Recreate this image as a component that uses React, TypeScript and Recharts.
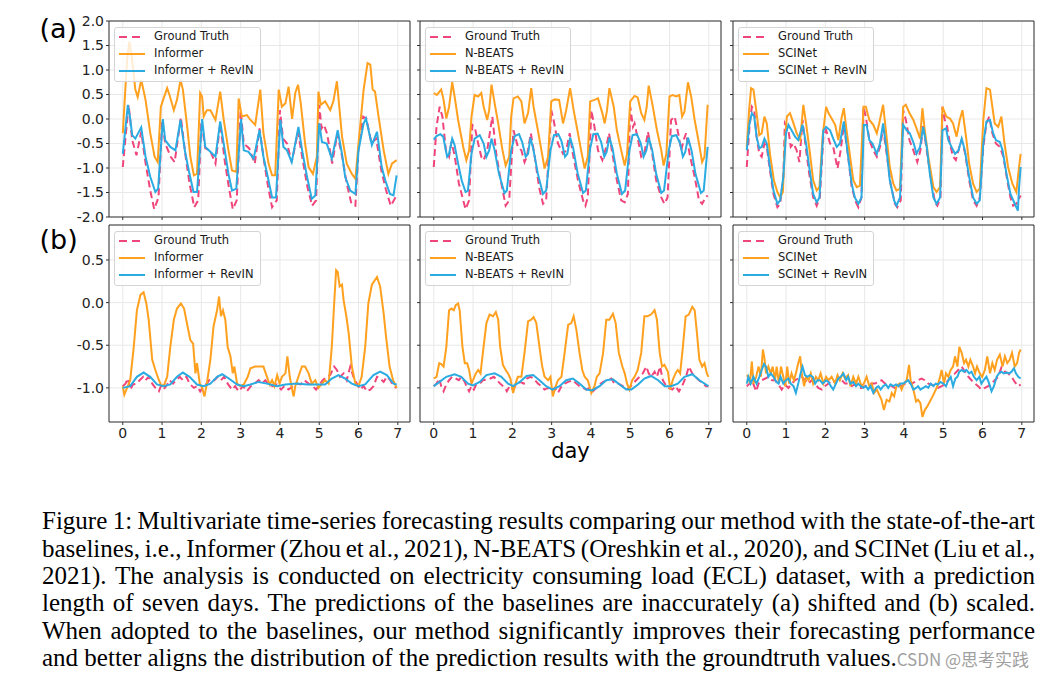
import React from 'react';
import { LineChart, Line, XAxis, YAxis, CartesianGrid, ReferenceLine, Legend } from 'recharts';

type P = [number, number];

const dayTicks = [0, 1, 2, 3, 4, 5, 6, 7];
const xDomain: [number, number] = [-0.35, 7.31];
const ticksA = [-2, -1.5, -1, -0.5, 0, 0.5, 1, 1.5, 2];
const domainA: [number, number] = [-2, 2];
const ticksB = [-1, -0.5, 0, 0.5];
const domainB: [number, number] = [-1.4, 0.91];

const namesInformer = ['Ground Truth', 'Informer', 'Informer + RevIN'];
const namesNBeats = ['Ground Truth', 'N-BEATS', 'N-BEATS + RevIN'];
const namesSCINet = ['Ground Truth', 'SCINet', 'SCINet + RevIN'];

// ---------- (a) shifted ----------
const aInformerTruth: P[] = [[0,-0.98],[0.15,0.29],[0.24,-0.43],[0.35,-0.74],[0.47,-0.26],[0.58,-0.9],[0.7,-1.46],[0.8,-1.84],[0.91,-1.6],[1,-0.05],[1.08,-0.5],[1.22,-0.77],[1.32,-0.88],[1.48,0.03],[1.6,-0.77],[1.7,-1.32],[1.82,-1.8],[1.92,-1.66],[2,-0.05],[2.1,-0.6],[2.22,-0.64],[2.36,-0.91],[2.48,-0.09],[2.6,-0.88],[2.7,-1.39],[2.8,-1.84],[2.9,-1.66],[3,0.18],[3.08,-0.5],[3.22,-0.6],[3.36,-0.91],[3.48,-0.19],[3.6,-0.88],[3.7,-1.39],[3.8,-1.8],[3.92,-1.66],[4,0.18],[4.08,-0.4],[4.18,-0.5],[4.3,-0.88],[4.46,-0.26],[4.58,-0.84],[4.7,-1.39],[4.82,-1.77],[4.92,-1.66],[5,0.29],[5.06,-0.19],[5.12,-0.12],[5.2,-0.3],[5.33,-0.91],[5.46,-0.3],[5.6,-0.84],[5.7,-1.32],[5.82,-1.73],[5.92,-1.77],[6,-0.6],[6.12,0.05],[6.2,0.01],[6.33,-0.5],[6.45,-0.4],[6.58,-1.05],[6.7,-1.45],[6.82,-1.77],[6.97,-1.56]];
const aInformerBase: P[] = [[0,-0.29],[0.11,1.21],[0.17,1.58],[0.24,1.2],[0.32,0.6],[0.38,0.45],[0.47,0.8],[0.58,0.39],[0.7,-0.29],[0.81,-0.77],[0.89,-0.88],[0.97,0.25],[1.04,0.42],[1.13,0.63],[1.19,0.49],[1.3,0.18],[1.38,0.39],[1.47,0.8],[1.53,0.6],[1.64,-0.16],[1.72,-0.77],[1.81,-1.15],[1.89,-1.12],[1.97,0.53],[2.02,0.46],[2.06,0.05],[2.14,0.18],[2.23,0.18],[2.36,-0.02],[2.48,0.56],[2.57,-0.02],[2.69,-0.64],[2.78,-1.05],[2.89,-1.08],[2.95,0.42],[3.03,0.05],[3.16,0.08],[3.25,-0.02],[3.37,-0.12],[3.5,0.6],[3.58,-0.29],[3.71,-0.91],[3.8,-1.15],[3.88,-1.15],[3.97,0.6],[4.05,0.25],[4.14,0.32],[4.22,0.66],[4.31,0],[4.39,0.53],[4.46,0.7],[4.53,0.32],[4.64,-0.5],[4.73,-0.98],[4.84,-1.12],[4.94,-0.77],[4.98,0.56],[5.04,0.29],[5.15,0.36],[5.28,0.18],[5.36,0.36],[5.45,0.77],[5.58,-0.36],[5.7,-0.91],[5.83,-1.12],[5.92,-1.22],[6,-0.5],[6.13,0.6],[6.23,1.14],[6.3,1.11],[6.36,0.6],[6.42,0.56],[6.51,0.05],[6.64,-0.64],[6.76,-1.12],[6.85,-0.91],[6.97,-0.84]];
const aInformerRevin: P[] = [[0,-0.71],[0.13,0.29],[0.19,0],[0.24,-0.33],[0.32,-0.4],[0.47,-0.17],[0.58,-0.77],[0.7,-1.18],[0.83,-1.49],[0.9,-1.42],[1.02,0],[1.08,-0.43],[1.21,-0.57],[1.34,-0.64],[1.47,-0.02],[1.58,-0.64],[1.68,-1.05],[1.8,-1.49],[1.89,-1.49],[2.02,0],[2.1,-0.57],[2.23,-0.67],[2.36,-0.77],[2.48,-0.05],[2.61,-0.71],[2.69,-1.12],[2.78,-1.46],[2.89,-1.42],[3.01,0],[3.08,-0.64],[3.2,-0.67],[3.33,-0.81],[3.48,-0.23],[3.58,-0.77],[3.69,-1.18],[3.8,-1.6],[3.9,-1.6],[4.01,-0.02],[4.09,-0.57],[4.18,-0.64],[4.3,-0.88],[4.47,-0.16],[4.58,-0.71],[4.69,-1.18],[4.81,-1.63],[4.9,-1.56],[5,-0.09],[5.07,-0.47],[5.19,-0.5],[5.32,-0.81],[5.47,-0.23],[5.58,-0.71],[5.66,-1.18],[5.79,-1.46],[5.92,-1.53],[6,-0.64],[6.13,-0.09],[6.19,0.01],[6.34,-0.53],[6.47,-0.26],[6.59,-0.98],[6.68,-1.25],[6.8,-1.53],[6.89,-1.56],[6.97,-1.15]];

const aNBeatsTruth: P[] = [[0,-0.98],[0.07,-0.16],[0.15,0.25],[0.22,0.05],[0.31,-0.64],[0.39,-0.77],[0.45,-0.47],[0.53,-0.74],[0.64,-1.32],[0.75,-1.66],[0.81,-1.84],[0.9,-1.66],[0.98,-0.12],[1.05,-0.19],[1.13,-0.5],[1.21,-0.77],[1.27,-0.84],[1.36,-0.64],[1.49,0.05],[1.59,-0.71],[1.72,-1.32],[1.83,-1.77],[1.92,-1.66],[1.98,-0.84],[2.03,-0.23],[2.14,-0.57],[2.23,-0.64],[2.31,-0.88],[2.37,-0.77],[2.47,-0.29],[2.57,-0.77],[2.68,-1.39],[2.78,-1.73],[2.86,-1.66],[2.99,0.18],[3.05,-0.02],[3.16,-0.5],[3.29,-0.71],[3.37,-0.64],[3.46,-0.29],[3.54,-0.71],[3.67,-1.25],[3.8,-1.66],[3.86,-1.77],[3.92,-1.6],[4.01,0.18],[4.09,-0.16],[4.18,-0.64],[4.29,-0.84],[4.39,-0.57],[4.46,-0.29],[4.56,-0.77],[4.66,-1.25],[4.77,-1.66],[4.86,-1.7],[4.94,-1.53],[5,0.25],[5.07,-0.16],[5.11,-0.09],[5.2,-0.43],[5.28,-0.77],[5.36,-0.71],[5.45,-0.26],[5.56,-0.71],[5.66,-1.25],[5.79,-1.6],[5.87,-1.73],[5.95,-1.6],[6.04,-0.02],[6.13,0.05],[6.22,-0.29],[6.3,-0.64],[6.36,-0.43],[6.42,-0.29],[6.51,-0.71],[6.64,-1.18],[6.75,-1.66],[6.83,-1.73],[6.92,-1.6],[6.97,-1.56]];
const aNBeatsBase: P[] = [[0,0.53],[0.08,0.49],[0.19,0.6],[0.25,0.39],[0.32,0.01],[0.39,0.25],[0.47,0.75],[0.53,0.46],[0.62,-0.02],[0.75,-0.57],[0.83,-0.84],[0.9,-0.64],[0.96,0.05],[1.04,0.49],[1.13,0.46],[1.21,0.53],[1.27,0.25],[1.36,-0.02],[1.41,0.18],[1.47,0.7],[1.55,0.32],[1.64,-0.09],[1.75,-0.64],[1.83,-0.95],[1.92,-0.77],[1.97,0.05],[2.03,0.42],[2.14,0.46],[2.23,0.36],[2.31,-0.09],[2.4,0.12],[2.48,0.63],[2.54,0.25],[2.65,-0.23],[2.74,-0.64],[2.82,-1.01],[2.91,-0.77],[2.99,0.36],[3.08,0.4],[3.19,0.39],[3.29,-0.09],[3.37,0.18],[3.47,0.63],[3.56,0.18],[3.67,-0.29],[3.75,-0.64],[3.84,-1.01],[3.92,-0.77],[3.98,0.36],[4.09,0.39],[4.18,0.42],[4.29,0.12],[4.35,-0.09],[4.41,0.18],[4.47,0.63],[4.58,0.25],[4.66,-0.23],[4.77,-0.64],[4.86,-0.95],[4.92,-0.71],[5,0.36],[5.11,0.47],[5.19,0.44],[5.28,0.12],[5.36,-0.02],[5.42,0.25],[5.47,0.68],[5.56,0.32],[5.68,-0.23],[5.79,-0.64],[5.85,-0.95],[5.92,-0.71],[6,0.46],[6.08,0.49],[6.17,0.46],[6.25,0.49],[6.32,0.05],[6.38,0.15],[6.47,0.75],[6.55,0.46],[6.64,-0.02],[6.75,-0.5],[6.83,-0.88],[6.89,-0.77],[6.97,0.29]];
const aNBeatsRevin: P[] = [[0,-0.42],[0.07,-0.35],[0.17,-0.31],[0.24,-0.36],[0.34,-0.77],[0.39,-0.71],[0.47,-0.4],[0.53,-0.53],[0.62,-0.91],[0.71,-1.25],[0.81,-1.49],[0.87,-1.46],[0.96,-0.71],[1.04,-0.4],[1.17,-0.33],[1.27,-0.5],[1.34,-0.77],[1.41,-0.64],[1.47,-0.4],[1.55,-0.64],[1.66,-1.12],[1.8,-1.51],[1.86,-1.46],[1.97,-0.64],[2.06,-0.35],[2.17,-0.31],[2.25,-0.47],[2.34,-0.77],[2.4,-0.71],[2.46,-0.38],[2.54,-0.64],[2.65,-1.12],[2.78,-1.53],[2.86,-1.46],[2.97,-0.64],[3.06,-0.33],[3.17,-0.31],[3.25,-0.45],[3.34,-0.77],[3.4,-0.71],[3.47,-0.38],[3.55,-0.6],[3.66,-1.1],[3.8,-1.51],[3.87,-1.46],[3.98,-0.6],[4.06,-0.31],[4.17,-0.3],[4.26,-0.47],[4.34,-0.77],[4.4,-0.67],[4.47,-0.38],[4.55,-0.6],[4.66,-1.12],[4.79,-1.53],[4.87,-1.46],[4.98,-0.64],[5.06,-0.33],[5.17,-0.31],[5.27,-0.5],[5.34,-0.77],[5.41,-0.64],[5.47,-0.38],[5.56,-0.64],[5.66,-1.12],[5.79,-1.51],[5.86,-1.46],[5.98,-0.64],[6.06,-0.35],[6.17,-0.33],[6.27,-0.5],[6.34,-0.77],[6.4,-0.67],[6.47,-0.38],[6.56,-0.64],[6.66,-1.12],[6.8,-1.51],[6.87,-1.46],[6.97,-0.57]];

const aSCINetTruth: P[] = [[0,-0.98],[0.07,-0.16],[0.13,0.25],[0.19,0.18],[0.25,-0.36],[0.32,-0.71],[0.38,-0.77],[0.45,-0.5],[0.51,-0.57],[0.59,-1.05],[0.68,-1.53],[0.78,-1.8],[0.85,-1.73],[0.93,-1.18],[0.97,-0.09],[1.06,-0.23],[1.12,-0.57],[1.19,-0.5],[1.27,-0.64],[1.34,-0.88],[1.42,-0.02],[1.51,-0.64],[1.59,-1.12],[1.69,-1.6],[1.78,-1.77],[1.86,-1.6],[1.95,-0.36],[2.02,-0.23],[2.12,-0.5],[2.2,-0.57],[2.31,-1.01],[2.39,-0.64],[2.47,-0.12],[2.58,-0.77],[2.67,-1.39],[2.78,-1.7],[2.84,-1.8],[2.92,-1.6],[2.97,0.25],[3.03,0.05],[3.12,-0.43],[3.22,-0.64],[3.31,-0.77],[3.39,-0.57],[3.47,-0.19],[3.56,-0.71],[3.66,-1.32],[3.77,-1.73],[3.83,-1.8],[3.92,-1.66],[3.98,0.18],[4.05,-0.02],[4.14,-0.43],[4.24,-0.64],[4.34,-0.88],[4.42,-0.64],[4.49,-0.12],[4.58,-0.64],[4.68,-1.18],[4.79,-1.7],[4.85,-1.77],[4.93,-1.6],[4.98,0.25],[5.04,-0.02],[5.1,-0.16],[5.17,-0.5],[5.25,-0.77],[5.32,-0.84],[5.41,-0.57],[5.47,-0.43],[5.56,-0.71],[5.66,-1.25],[5.76,-1.66],[5.85,-1.77],[5.93,-1.6],[6.02,-0.57],[6.1,-0.09],[6.17,0.05],[6.25,-0.29],[6.34,-0.5],[6.44,-0.57],[6.53,-0.77],[6.63,-1.25],[6.71,-1.6],[6.78,-1.77],[6.86,-1.73],[6.97,-1.56]];
const aSCINetBase: P[] = [[0,-0.57],[0.06,0.18],[0.11,0.63],[0.17,0.6],[0.24,0.18],[0.32,-0.33],[0.38,-0.29],[0.45,0.05],[0.51,-0.09],[0.59,-0.71],[0.69,-1.25],[0.78,-1.49],[0.85,-1.6],[0.92,-1.49],[0.97,-0.5],[1.02,0.05],[1.1,0.12],[1.19,-0.09],[1.27,-0.29],[1.36,-0.43],[1.44,0.29],[1.51,-0.09],[1.61,-0.71],[1.69,-1.25],[1.78,-1.46],[1.85,-1.39],[1.93,-0.36],[2.02,0.25],[2.08,0.12],[2.16,0.01],[2.25,-0.12],[2.33,-0.43],[2.41,0.01],[2.47,0.22],[2.54,-0.23],[2.63,-0.77],[2.71,-1.25],[2.8,-1.39],[2.88,-1.36],[2.97,0.25],[3.03,0.25],[3.12,-0.02],[3.22,-0.12],[3.31,-0.29],[3.37,-0.09],[3.47,0.29],[3.54,-0.23],[3.64,-0.98],[3.73,-1.32],[3.81,-1.46],[3.9,-1.42],[3.98,0.25],[4.05,0.29],[4.14,0.12],[4.24,-0.02],[4.32,-0.19],[4.41,-0.4],[4.47,0.22],[4.53,-0.23],[4.62,-0.77],[4.75,-1.39],[4.83,-1.49],[4.92,-1.39],[4.98,0.25],[5.08,0.05],[5.17,0.01],[5.25,-0.09],[5.34,-0.36],[5.42,-0.02],[5.49,0.18],[5.58,-0.36],[5.66,-0.91],[5.76,-1.32],[5.85,-1.49],[5.93,-1.42],[6.02,-0.02],[6.1,0.63],[6.19,0.6],[6.25,0.25],[6.31,-0.09],[6.4,-0.16],[6.48,0.05],[6.56,-0.5],[6.65,-0.98],[6.76,-1.32],[6.86,-1.49],[6.92,-1.05],[6.97,-0.71]];
const aSCINetRevin: P[] = [[0,-0.64],[0.07,-0.09],[0.13,0.12],[0.19,0.05],[0.25,-0.36],[0.32,-0.6],[0.38,-0.57],[0.45,-0.4],[0.51,-0.5],[0.59,-0.98],[0.68,-1.46],[0.78,-1.73],[0.85,-1.66],[0.93,-1.18],[1,-0.29],[1.06,-0.12],[1.14,-0.23],[1.23,-0.36],[1.31,-0.43],[1.42,-0.12],[1.51,-0.5],[1.59,-0.98],[1.69,-1.53],[1.78,-1.7],[1.85,-1.6],[1.95,-0.23],[2.02,-0.16],[2.12,-0.23],[2.2,-0.4],[2.29,-0.57],[2.37,-0.5],[2.47,-0.05],[2.56,-0.64],[2.67,-1.32],[2.75,-1.6],[2.84,-1.73],[2.92,-1.6],[2.98,-0.12],[3.05,-0.12],[3.12,-0.43],[3.2,-0.5],[3.31,-0.71],[3.39,-0.5],[3.47,-0.09],[3.56,-0.64],[3.64,-1.25],[3.75,-1.66],[3.81,-1.77],[3.9,-1.6],[3.98,-0.12],[4.07,-0.23],[4.15,-0.29],[4.25,-0.5],[4.32,-0.71],[4.41,-0.57],[4.49,-0.16],[4.58,-0.57],[4.66,-1.12],[4.75,-1.6],[4.83,-1.73],[4.92,-1.6],[4.98,-0.23],[5.07,-0.19],[5.13,-0.43],[5.21,-0.57],[5.3,-0.71],[5.39,-0.64],[5.47,-0.4],[5.55,-0.64],[5.66,-1.18],[5.76,-1.6],[5.85,-1.73],[5.93,-1.66],[6.02,-0.5],[6.1,-0.05],[6.19,-0.02],[6.27,-0.29],[6.34,-0.43],[6.44,-0.47],[6.51,-0.64],[6.61,-1.12],[6.71,-1.53],[6.82,-1.73],[6.9,-1.87],[6.93,-1.39],[6.97,-0.98]];

// ---------- (b) scaled ----------
const bInformerTruth: P[] = [[0,-0.98],[0.07,-0.95],[0.13,-0.89],[0.19,-1.02],[0.26,-0.96],[0.35,-0.95],[0.43,-0.91],[0.52,-0.87],[0.58,-0.91],[0.66,-0.87],[0.75,-0.95],[0.83,-1],[0.92,-1.04],[0.97,-0.98],[1.04,-1.02],[1.13,-0.96],[1.19,-0.91],[1.28,-0.95],[1.36,-0.91],[1.45,-0.87],[1.53,-0.91],[1.62,-0.87],[1.7,-0.95],[1.81,-1],[1.89,-0.98],[1.97,-1.04],[2.06,-0.98],[2.14,-0.95],[2.23,-0.89],[2.33,-0.91],[2.42,-0.87],[2.5,-0.91],[2.58,-0.87],[2.67,-0.95],[2.78,-1.02],[2.86,-0.98],[2.95,-1.04],[3.06,-0.98],[3.16,-1.04],[3.26,-0.98],[3.35,-0.95],[3.46,-0.91],[3.54,-0.95],[3.63,-0.91],[3.71,-0.96],[3.82,-0.98],[3.92,-0.96],[4.03,-1.02],[4.11,-0.98],[4.22,-1.02],[4.33,-0.98],[4.43,-0.95],[4.53,-0.96],[4.62,-0.91],[4.73,-0.95],[4.84,-0.98],[4.92,-1.02],[5.01,-0.96],[5.09,-0.91],[5.18,-0.87],[5.28,-0.85],[5.38,-0.75],[5.45,-0.79],[5.53,-0.87],[5.62,-0.83],[5.7,-0.91],[5.79,-0.75],[5.87,-0.87],[5.96,-0.95],[6.04,-1.02],[6.13,-0.98],[6.21,-1.04],[6.3,-1.02],[6.38,-0.98],[6.47,-0.87],[6.55,-0.89],[6.64,-0.93],[6.72,-0.87],[6.81,-0.91],[6.89,-0.98],[6.97,-1]];
const bInformerBase: P[] = [[0,-0.98],[0.04,-1.08],[0.11,-1],[0.19,-0.91],[0.28,-0.52],[0.36,-0.09],[0.45,0.09],[0.53,0.12],[0.6,-0.01],[0.66,-0.2],[0.75,-0.67],[0.83,-0.79],[0.92,-0.91],[0.97,-0.96],[1.04,-0.98],[1.13,-0.87],[1.21,-0.52],[1.3,-0.2],[1.38,-0.07],[1.48,-0.01],[1.56,-0.07],[1.65,-0.28],[1.72,-0.44],[1.79,-0.48],[1.85,-0.83],[1.89,-0.71],[1.96,-0.95],[2.02,-1],[2.08,-1.1],[2.14,-0.95],[2.23,-0.67],[2.31,-0.28],[2.4,-0.09],[2.45,0.07],[2.5,-0.16],[2.55,-0.09],[2.61,-0.2],[2.67,-0.52],[2.74,-0.63],[2.8,-0.83],[2.84,-0.75],[2.91,-0.95],[2.99,-0.98],[3.08,-0.96],[3.18,-0.87],[3.25,-0.77],[3.37,-0.75],[3.5,-0.75],[3.58,-0.75],[3.67,-0.87],[3.74,-0.96],[3.8,-0.91],[3.86,-0.98],[3.93,-0.85],[3.99,-0.95],[4.05,-0.87],[4.14,-0.83],[4.19,-0.63],[4.25,-0.87],[4.31,-1.02],[4.35,-1.1],[4.39,-0.98],[4.47,-0.87],[4.56,-0.75],[4.64,-0.75],[4.73,-0.83],[4.81,-0.95],[4.9,-0.91],[4.98,-1],[5.07,-0.95],[5.15,-0.91],[5.24,-0.95],[5.32,-0.52],[5.38,-0.01],[5.43,0.38],[5.47,0.36],[5.52,0.19],[5.58,0.21],[5.62,0.03],[5.69,-0.16],[5.75,-0.36],[5.83,-0.75],[5.92,-0.95],[6,-0.98],[6.08,-0.87],[6.17,-0.52],[6.25,-0.01],[6.34,0.21],[6.47,0.3],[6.55,0.19],[6.64,-0.13],[6.7,-0.4],[6.79,-0.75],[6.88,-0.91],[6.97,-1]];
const bInformerRevin: P[] = [[0,-1],[0.19,-0.98],[0.36,-0.87],[0.53,-0.82],[0.7,-0.87],[0.87,-0.96],[1.04,-0.98],[1.21,-0.96],[1.38,-0.87],[1.53,-0.82],[1.7,-0.87],[1.89,-0.96],[2.06,-0.98],[2.23,-0.95],[2.4,-0.87],[2.53,-0.84],[2.7,-0.89],[2.91,-0.96],[3.08,-0.98],[3.25,-0.96],[3.46,-0.93],[3.67,-0.95],[3.92,-0.98],[4.14,-0.96],[4.43,-0.95],[4.69,-0.96],[4.98,-0.96],[5.15,-0.96],[5.32,-0.89],[5.49,-0.85],[5.66,-0.89],[5.83,-0.95],[6,-0.98],[6.17,-0.96],[6.38,-0.85],[6.55,-0.81],[6.72,-0.85],[6.89,-0.95],[6.97,-0.96]];

const bNBeatsTruth: P[] = [[0,-0.98],[0.07,-0.95],[0.14,-0.89],[0.19,-0.98],[0.25,-1.04],[0.32,-0.96],[0.39,-0.91],[0.47,-0.87],[0.56,-0.89],[0.64,-0.91],[0.7,-0.87],[0.79,-0.93],[0.85,-1],[0.9,-1.04],[0.96,-0.98],[1.02,-1.02],[1.08,-0.96],[1.17,-0.95],[1.25,-0.91],[1.36,-0.9],[1.44,-0.89],[1.53,-0.87],[1.61,-0.91],[1.69,-0.95],[1.81,-1],[1.86,-1.04],[1.93,-0.98],[2.02,-1.02],[2.1,-0.96],[2.2,-0.93],[2.29,-0.95],[2.37,-0.89],[2.46,-0.87],[2.54,-0.89],[2.65,-0.95],[2.74,-0.98],[2.82,-1.02],[2.91,-1],[2.99,-1.04],[3.08,-1],[3.16,-1.06],[3.25,-0.98],[3.33,-0.95],[3.42,-0.93],[3.54,-0.91],[3.63,-0.95],[3.71,-0.98],[3.8,-1],[3.88,-1.02],[3.97,-1],[4.05,-1.04],[4.14,-1],[4.22,-0.96],[4.31,-0.93],[4.43,-0.91],[4.52,-0.89],[4.6,-0.95],[4.69,-0.95],[4.81,-0.98],[4.9,-1.02],[4.98,-1],[5.07,-0.95],[5.15,-0.91],[5.24,-0.87],[5.32,-0.83],[5.41,-0.75],[5.47,-0.83],[5.53,-0.87],[5.62,-0.81],[5.68,-0.87],[5.76,-0.75],[5.83,-0.91],[5.92,-0.98],[5.98,-1],[6.07,-1.02],[6.15,-0.98],[6.24,-1.04],[6.32,-0.98],[6.42,-0.87],[6.49,-0.75],[6.58,-0.83],[6.66,-0.87],[6.75,-0.91],[6.85,-0.95],[6.93,-0.98],[6.99,-0.98]];
const bNBeatsBase: P[] = [[0,-0.89],[0.07,-0.87],[0.14,-0.71],[0.19,-0.72],[0.25,-0.75],[0.32,-0.52],[0.39,-0.09],[0.45,-0.07],[0.51,-0.09],[0.56,-0.03],[0.62,-0.01],[0.66,-0.09],[0.73,-0.52],[0.79,-0.71],[0.85,-0.71],[0.9,-0.79],[0.96,-0.95],[1,-0.91],[1.07,-0.83],[1.13,-0.79],[1.19,-0.83],[1.25,-0.59],[1.34,-0.24],[1.42,-0.14],[1.51,-0.16],[1.58,-0.11],[1.64,-0.2],[1.69,-0.52],[1.76,-0.73],[1.83,-0.79],[1.89,-0.83],[1.95,-0.89],[2.02,-1.06],[2.08,-0.95],[2.14,-0.87],[2.23,-0.87],[2.31,-0.59],[2.4,-0.22],[2.48,-0.2],[2.54,-0.17],[2.61,-0.24],[2.69,-0.52],[2.76,-0.75],[2.82,-0.87],[2.91,-0.91],[2.97,-0.87],[3.03,-1.1],[3.09,-1],[3.16,-0.91],[3.25,-0.87],[3.33,-0.59],[3.42,-0.26],[3.5,-0.24],[3.56,-0.16],[3.63,-0.32],[3.71,-0.59],[3.78,-0.79],[3.84,-0.87],[3.92,-0.91],[4.01,-1.06],[4.09,-0.98],[4.15,-0.87],[4.22,-0.83],[4.31,-0.59],[4.39,-0.2],[4.47,-0.2],[4.56,-0.13],[4.63,-0.24],[4.71,-0.59],[4.8,-0.75],[4.86,-0.83],[4.92,-0.95],[4.98,-1.02],[5.05,-0.91],[5.11,-0.87],[5.19,-0.79],[5.28,-0.59],[5.36,-0.16],[5.44,-0.16],[5.53,-0.14],[5.62,-0.09],[5.68,-0.2],[5.75,-0.59],[5.81,-0.75],[5.87,-0.73],[5.96,-0.81],[6.02,-1.02],[6.08,-0.91],[6.15,-0.83],[6.21,-0.79],[6.27,-0.83],[6.34,-0.52],[6.41,-0.16],[6.49,-0.14],[6.58,-0.05],[6.64,-0.09],[6.69,-0.32],[6.76,-0.67],[6.83,-0.75],[6.89,-0.71],[6.95,-0.83],[6.99,-0.87]];
const bNBeatsRevin: P[] = [[0,-0.98],[0.15,-0.93],[0.32,-0.87],[0.53,-0.84],[0.7,-0.87],[0.87,-0.95],[1,-0.97],[1.17,-0.93],[1.34,-0.85],[1.55,-0.83],[1.72,-0.87],[1.89,-0.95],[2.02,-0.98],[2.19,-0.93],[2.36,-0.86],[2.53,-0.85],[2.69,-0.91],[2.86,-0.98],[3.02,-1.02],[3.2,-0.98],[3.37,-0.91],[3.54,-0.89],[3.71,-0.95],[3.88,-1.02],[4.03,-1.03],[4.22,-0.98],[4.39,-0.91],[4.56,-0.9],[4.73,-0.96],[4.9,-1.02],[5.03,-1.02],[5.2,-0.96],[5.36,-0.89],[5.53,-0.86],[5.71,-0.91],[5.88,-0.98],[6.04,-0.98],[6.21,-0.95],[6.38,-0.87],[6.58,-0.84],[6.76,-0.91],[6.99,-0.98]];

const bSCINetTruth: P[] = [[0,-0.98],[0.07,-0.95],[0.13,-0.91],[0.19,-0.98],[0.24,-1.04],[0.3,-0.95],[0.38,-0.91],[0.47,-0.89],[0.55,-0.87],[0.64,-0.91],[0.72,-0.91],[0.81,-0.96],[0.89,-1.02],[0.97,-0.96],[1.06,-1],[1.14,-0.95],[1.23,-0.91],[1.31,-0.89],[1.4,-0.87],[1.48,-0.91],[1.57,-0.95],[1.65,-0.91],[1.74,-0.95],[1.82,-1],[1.91,-1.02],[1.99,-0.98],[2.08,-0.95],[2.16,-0.91],[2.25,-0.93],[2.33,-0.89],[2.42,-0.91],[2.5,-0.95],[2.58,-0.95],[2.67,-0.98],[2.75,-0.96],[2.84,-1],[2.92,-1],[3.01,-0.98],[3.09,-0.96],[3.18,-0.95],[3.26,-0.95],[3.35,-0.93],[3.43,-0.91],[3.52,-0.95],[3.6,-0.95],[3.69,-0.98],[3.77,-1],[3.86,-1],[3.94,-0.98],[4.03,-0.95],[4.11,-0.93],[4.19,-0.95],[4.28,-0.93],[4.36,-0.91],[4.45,-0.89],[4.53,-0.91],[4.62,-0.95],[4.7,-0.96],[4.79,-0.98],[4.87,-1],[4.96,-0.98],[5.04,-0.96],[5.13,-0.91],[5.21,-0.87],[5.3,-0.83],[5.38,-0.79],[5.47,-0.75],[5.55,-0.81],[5.64,-0.87],[5.72,-0.91],[5.81,-0.95],[5.89,-0.98],[5.97,-1.02],[6.06,-1],[6.14,-0.98],[6.23,-0.95],[6.31,-0.91],[6.4,-0.87],[6.48,-0.76],[6.57,-0.81],[6.65,-0.83],[6.74,-0.87],[6.82,-0.93],[6.91,-0.98],[6.97,-0.96]];
const bSCINetBase: P[] = [[0,-0.85],[0.04,-0.87],[0.08,-0.95],[0.13,-0.69],[0.17,-0.95],[0.24,-0.87],[0.3,-0.75],[0.36,-0.87],[0.41,-0.55],[0.45,-0.65],[0.49,-0.83],[0.55,-0.75],[0.61,-0.83],[0.66,-0.75],[0.72,-0.91],[0.76,-0.75],[0.82,-0.95],[0.87,-0.75],[0.93,-0.87],[0.98,-0.98],[1.03,-0.75],[1.08,-0.95],[1.14,-0.83],[1.2,-0.91],[1.25,-0.83],[1.31,-0.71],[1.36,-0.63],[1.4,-0.83],[1.46,-0.98],[1.51,-0.87],[1.57,-0.91],[1.63,-0.83],[1.69,-0.95],[1.76,-0.87],[1.82,-0.91],[1.88,-0.83],[1.95,-0.95],[2.02,-0.87],[2.08,-0.91],[2.16,-0.87],[2.25,-0.95],[2.31,-0.85],[2.37,-0.91],[2.44,-0.83],[2.5,-0.89],[2.58,-0.85],[2.64,-0.98],[2.71,-0.87],[2.78,-0.95],[2.84,-0.87],[2.92,-0.98],[2.98,-0.95],[3.05,-0.87],[3.12,-0.98],[3.18,-0.95],[3.24,-1.06],[3.31,-1.02],[3.37,-1.08],[3.43,-1.14],[3.49,-1.26],[3.56,-1.14],[3.63,-1.16],[3.69,-1.06],[3.75,-1.1],[3.81,-0.98],[3.88,-0.95],[3.94,-1.02],[4,-0.95],[4.07,-0.91],[4.13,-0.73],[4.17,-0.91],[4.24,-1.02],[4.31,-1.16],[4.36,-1.14],[4.42,-1.18],[4.47,-1.34],[4.53,-1.26],[4.59,-1.22],[4.66,-1.16],[4.73,-1.1],[4.79,-1.04],[4.85,-0.98],[4.92,-0.87],[4.96,-0.79],[5.02,-0.95],[5.07,-0.83],[5.13,-0.87],[5.19,-0.79],[5.25,-0.75],[5.3,-0.63],[5.36,-0.75],[5.41,-0.52],[5.47,-0.59],[5.53,-0.71],[5.58,-0.67],[5.64,-0.75],[5.69,-0.67],[5.76,-0.75],[5.81,-0.83],[5.86,-0.75],[5.93,-0.83],[5.99,-0.87],[6.06,-0.79],[6.12,-0.63],[6.19,-0.83],[6.25,-0.71],[6.31,-0.79],[6.37,-0.67],[6.44,-0.61],[6.51,-0.75],[6.57,-0.63],[6.63,-0.71],[6.69,-0.67],[6.75,-0.59],[6.82,-0.75],[6.88,-0.71],[6.93,-0.59],[6.97,-0.55]];
const bSCINetRevin: P[] = [[0,-0.95],[0.04,-0.87],[0.1,-0.95],[0.17,-0.87],[0.25,-0.95],[0.32,-0.87],[0.38,-0.79],[0.44,-0.72],[0.49,-0.75],[0.55,-0.87],[0.61,-0.83],[0.68,-0.87],[0.75,-0.93],[0.81,-0.95],[0.86,-0.87],[0.93,-0.95],[1,-0.91],[1.06,-0.89],[1.12,-0.95],[1.19,-0.98],[1.25,-1.06],[1.31,-0.95],[1.37,-0.83],[1.42,-0.75],[1.48,-0.85],[1.54,-0.87],[1.61,-0.85],[1.68,-0.87],[1.74,-0.95],[1.8,-0.91],[1.86,-0.91],[1.93,-0.95],[2.02,-0.91],[2.08,-0.93],[2.14,-0.98],[2.2,-1.02],[2.27,-0.95],[2.33,-0.89],[2.39,-0.87],[2.46,-0.83],[2.53,-0.91],[2.58,-0.87],[2.64,-0.95],[2.71,-0.93],[2.78,-0.98],[2.84,-0.95],[2.9,-0.98],[2.97,-1],[3.03,-0.98],[3.09,-1.02],[3.15,-0.98],[3.22,-1.06],[3.29,-1],[3.35,-0.98],[3.41,-1.02],[3.47,-0.98],[3.54,-0.96],[3.6,-1],[3.66,-0.96],[3.73,-0.98],[3.8,-0.96],[3.86,-0.98],[3.92,-0.95],[3.98,-0.95],[4.05,-0.93],[4.11,-0.91],[4.17,-0.95],[4.24,-1.02],[4.31,-1],[4.36,-0.98],[4.42,-1.02],[4.49,-1],[4.56,-0.98],[4.62,-1],[4.68,-0.95],[4.75,-0.98],[4.81,-0.95],[4.87,-0.96],[4.93,-0.93],[5,-0.95],[5.07,-0.98],[5.13,-0.91],[5.19,-0.87],[5.25,-0.98],[5.31,-0.89],[5.36,-0.87],[5.41,-0.81],[5.47,-0.79],[5.53,-0.81],[5.59,-0.79],[5.66,-0.83],[5.72,-0.81],[5.78,-0.87],[5.85,-0.91],[5.92,-0.87],[5.97,-0.95],[6.03,-0.91],[6.1,-0.87],[6.17,-0.95],[6.23,-1.04],[6.29,-0.98],[6.36,-0.87],[6.42,-0.83],[6.48,-0.81],[6.54,-0.83],[6.61,-0.82],[6.68,-0.83],[6.74,-0.81],[6.8,-0.77],[6.85,-0.83],[6.91,-0.87],[6.97,-0.89]];

const captionLines = [
  'Figure 1: Multivariate time-series forecasting results comparing our method with the state-of-the-art',
  'baselines, i.e., Informer (Zhou et al., 2021), N-BEATS (Oreshkin et al., 2020), and SCINet (Liu et al.,',
  '2021). The analysis is conducted on electricity consuming load (ECL) dataset, with a prediction',
  'length of seven days. The predictions of the baselines are inaccurately (a) shifted and (b) scaled.',
  'When adopted to the baselines, our method significantly improves their forecasting performance',
  'and better aligns the distribution of the prediction results with the groundtruth values.',
];
const watermark = 'CSDN @思考实践';

const C_TRUTH = '#f0457b';
const C_BASE = '#ffa01e';
const C_REVIN = '#2aabe2';
const FONT = '"DejaVu Sans", Verdana, sans-serif';

const toRows = (a: P[]) => a.map(([x, y]) => ({ x, y }));

function LegendBox({ names }: { names: string[] }) {
  const styles = [
    { c: C_TRUTH, d: '8 5' },
    { c: C_BASE, d: undefined },
    { c: C_REVIN, d: undefined },
  ];
  return (
    <div style={{ background: 'rgba(255,255,255,0.8)', border: '1px solid #d4d4d4', borderRadius: 3, padding: '0 6px 2px 2px', fontFamily: FONT, fontSize: 11.5, color: '#1a1a1a', lineHeight: '17px', whiteSpace: 'nowrap' }}>
      {names.map((n, i) => (
        <div key={n} style={{ display: 'flex', alignItems: 'center', height: 17 }}>
          <svg width={29} height={10} style={{ display: 'block' }}>
            <line x1={2} y1={5} x2={28} y2={5} stroke={styles[i].c} strokeWidth={2} strokeDasharray={styles[i].d} />
          </svg>
          <span style={{ marginLeft: 8 }}>{n}</span>
        </div>
      ))}
    </div>
  );
}

interface PanelProps {
  left: number; top: number; w: number; h: number;
  yDomain: [number, number]; yTicks: number[];
  yLabels: boolean; xLabels: boolean; xTitle?: string;
  truth: P[]; base: P[]; revin: P[]; names: string[];
}

function Panel(p: PanelProps) {
  const YW = 50, MT = 10, MR = 5;
  const XH = p.xLabels ? 40 : 10;
  const tickStyle = { fontSize: 14, fontFamily: FONT, fill: '#222' };
  return (
    <div style={{ position: 'absolute', left: p.left - YW, top: p.top - MT }}>
      <LineChart width={YW + p.w + MR} height={MT + p.h + XH} margin={{ top: MT, right: MR, bottom: 0, left: 0 }}>
        <CartesianGrid stroke="#e8e8e8" strokeWidth={1} />
        <XAxis
          type="number" dataKey="x" domain={xDomain} ticks={dayTicks} allowDataOverflow interval={0}
          height={XH} tickSize={3} tickMargin={3} stroke="#333" tick={tickStyle}
          tickFormatter={(v: number) => (p.xLabels ? String(v) : '')}
          label={p.xTitle ? { value: p.xTitle, position: 'insideBottom', offset: 4, style: { fontSize: 21, fontFamily: FONT, fill: '#000' } } : undefined}
        />
        <YAxis
          type="number" dataKey="y" domain={p.yDomain} ticks={p.yTicks} allowDataOverflow interval={0}
          width={YW} tickSize={3} tickMargin={2} stroke="#333" tick={tickStyle}
          tickFormatter={(v: number) => (p.yLabels ? v.toFixed(1) : '')}
        />
        <ReferenceLine x={xDomain[1]} stroke="#333" strokeWidth={1} />
        <ReferenceLine y={p.yDomain[1]} stroke="#333" strokeWidth={1} />
        <Line data={toRows(p.truth)} dataKey="y" name={p.names[0]} type="linear" stroke={C_TRUTH} strokeWidth={2} strokeDasharray="7 4" dot={false} activeDot={false} isAnimationActive={false} />
        <Line data={toRows(p.base)} dataKey="y" name={p.names[1]} type="linear" stroke={C_BASE} strokeWidth={2} dot={false} activeDot={false} isAnimationActive={false} />
        <Line data={toRows(p.revin)} dataKey="y" name={p.names[2]} type="linear" stroke={C_REVIN} strokeWidth={2} dot={false} activeDot={false} isAnimationActive={false} />
        <Legend
          layout="horizontal" verticalAlign="middle" align="center"
          wrapperStyle={{ left: YW + 5, top: MT + 6, width: 'auto', height: 'auto' }}
          content={() => <LegendBox names={p.names} />}
        />
      </LineChart>
    </div>
  );
}

export default function App() {
  const lefts = [109, 420, 733];
  const W = 301;
  const topA = 21, hA = 196;
  const topB = 225, hB = 197;
  const baselines = [529, 556.4, 583.8, 611.2, 638.6, 666];
  const capSize = 25;
  return (
    <div style={{ position: 'absolute', left: 0, top: 0, width: 1045, height: 680, background: '#fff', overflow: 'hidden' }}>
      <div style={{ position: 'absolute', left: 39.5, top: 14.6, fontFamily: FONT, fontSize: 27, lineHeight: '27px', color: '#000' }}>(a)</div>
      <div style={{ position: 'absolute', left: 39.5, top: 225.9, fontFamily: FONT, fontSize: 27, lineHeight: '27px', color: '#000' }}>(b)</div>

      <Panel left={lefts[0]} top={topA} w={W} h={hA} yDomain={domainA} yTicks={ticksA} yLabels xLabels={false} truth={aInformerTruth} base={aInformerBase} revin={aInformerRevin} names={namesInformer} />
      <Panel left={lefts[1]} top={topA} w={W} h={hA} yDomain={domainA} yTicks={ticksA} yLabels={false} xLabels={false} truth={aNBeatsTruth} base={aNBeatsBase} revin={aNBeatsRevin} names={namesNBeats} />
      <Panel left={lefts[2]} top={topA} w={W} h={hA} yDomain={domainA} yTicks={ticksA} yLabels={false} xLabels={false} truth={aSCINetTruth} base={aSCINetBase} revin={aSCINetRevin} names={namesSCINet} />

      <Panel left={lefts[0]} top={topB} w={W} h={hB} yDomain={domainB} yTicks={ticksB} yLabels xLabels truth={bInformerTruth} base={bInformerBase} revin={bInformerRevin} names={namesInformer} />
      <Panel left={lefts[1]} top={topB} w={W} h={hB} yDomain={domainB} yTicks={ticksB} yLabels={false} xLabels xTitle="day" truth={bNBeatsTruth} base={bNBeatsBase} revin={bNBeatsRevin} names={namesNBeats} />
      <Panel left={lefts[2]} top={topB} w={W} h={hB} yDomain={domainB} yTicks={ticksB} yLabels={false} xLabels truth={bSCINetTruth} base={bSCINetBase} revin={bSCINetRevin} names={namesSCINet} />

      {captionLines.map((line, i) => {
        const last = i === captionLines.length - 1;
        return (
          <div key={i} style={{
            position: 'absolute', left: 42, width: 993, top: baselines[i] - 20.9,
            fontFamily: '"Liberation Serif", "Times New Roman", serif', fontSize: capSize, lineHeight: `${capSize}px`, color: '#000',
            whiteSpace: 'nowrap', wordSpacing: last ? 'normal' : '-2px',
            textAlign: last ? 'left' : 'justify', textAlignLast: last ? 'left' : 'justify',
          }}>
            {line}
            {last && <span style={{ fontFamily: '"Noto Sans CJK SC", "Noto Sans", sans-serif', fontSize: 17, color: '#a0a0a0' }}>{watermark}</span>}
          </div>
        );
      })}
    </div>
  );
}
